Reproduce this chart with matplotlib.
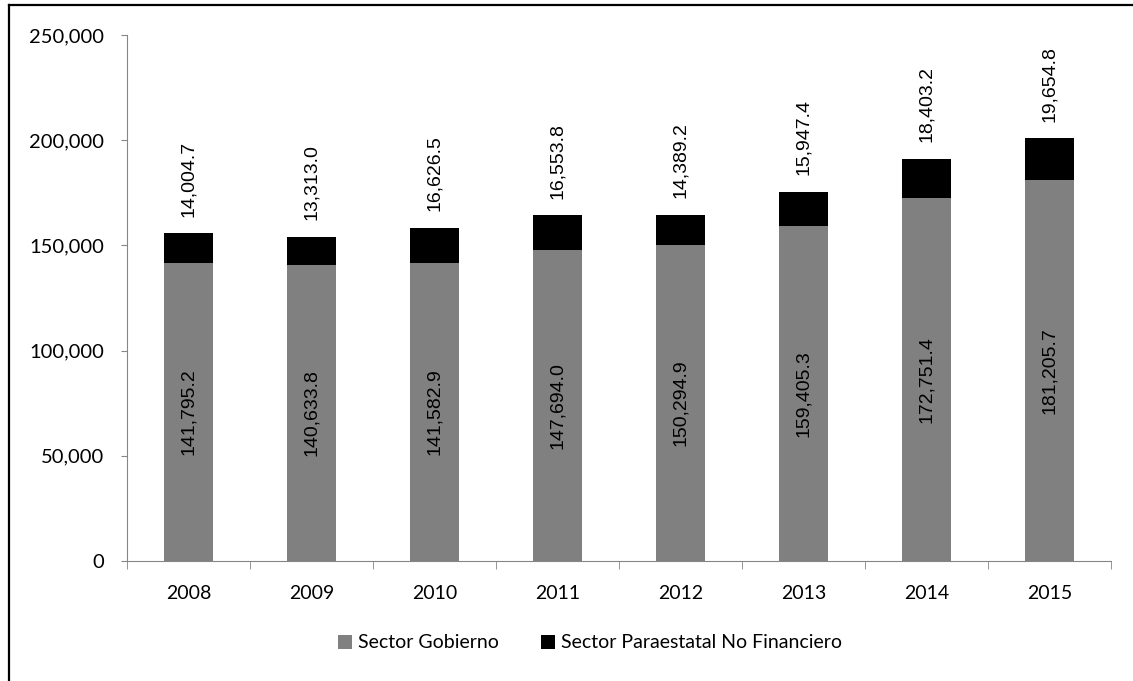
import matplotlib.pyplot as plt
from matplotlib.lines import Line2D

years = ["2008", "2009", "2010", "2011", "2012", "2013", "2014", "2015"]
gobierno = [141795.2, 140633.8, 141582.9, 147694.0, 150294.9, 159405.3, 172751.4, 181205.7]
paraestatal = [14004.7, 13313.0, 16626.5, 16553.8, 14389.2, 15947.4, 18403.2, 19654.8]

fig = plt.figure(figsize=(11.33, 6.81), dpi=100)
ax = fig.add_axes([127 / 1133, 1 - 561 / 681, 984 / 1133, 526 / 681])

x = list(range(len(years)))
ax.bar(x, gobierno, width=0.4, color="#808080", label="Sector Gobierno")
ax.bar(x, paraestatal, width=0.4, bottom=gobierno, color="black",
       label="Sector Paraestatal No Financiero")

for i in x:
    ax.text(i, gobierno[i] / 2, f"{gobierno[i]:,.1f}", rotation=90,
            ha="center", va="center", fontsize=14, family="Liberation Sans")
    ax.annotate(f"{paraestatal[i]:,.1f}", (i, gobierno[i] + paraestatal[i]),
                xytext=(0, 12), textcoords="offset points", rotation=90,
                ha="center", va="bottom", fontsize=14, family="Liberation Sans")

ax.set_xlim(-0.5, len(years) - 0.5)
ax.set_ylim(0, 250000)
ax.set_yticks(range(0, 250001, 50000))
ax.set_yticklabels([f"{v:,}" for v in range(0, 250001, 50000)], family="Lato", fontsize=14.5)
ax.set_xticks(x)
ax.set_xticklabels(years, family="Lato", fontsize=14)
ax.set_xticks([i - 0.5 for i in range(len(years) + 1)], minor=True)
ax.tick_params(axis="x", which="major", length=0, pad=17)
ax.tick_params(axis="x", which="minor", length=6, color="#868686", direction="out")
ax.tick_params(axis="y", length=4.5, color="#868686", pad=12)

for s in ["top", "right"]:
    ax.spines[s].set_visible(False)
for s in ["left", "bottom"]:
    ax.spines[s].set_color("#868686")

fig.legend(loc="center", bbox_to_anchor=(590 / 1133, 1 - 643 / 681), ncol=2, frameon=False,
           prop={"family": "Lato", "size": 14}, handlelength=0.7, handleheight=0.7,
           handletextpad=0.3, columnspacing=2.2)

# outer chart border
fig.add_artist(Line2D([9 / 1133, 9 / 1133], [0, 1 - 5 / 681], color="black", lw=1.6,
                      transform=fig.transFigure))
fig.add_artist(Line2D([9 / 1133, 1], [1 - 5 / 681, 1 - 5 / 681], color="black", lw=1.6,
                      transform=fig.transFigure))

plt.savefig("out.png", dpi=100)
